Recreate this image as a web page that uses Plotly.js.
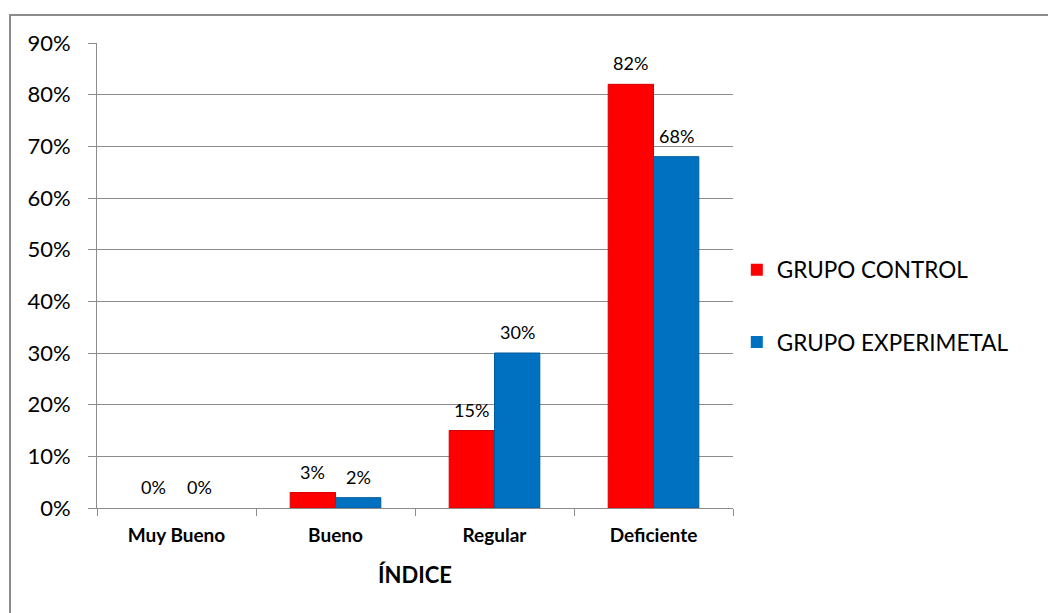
<!DOCTYPE html>
<html>
<head>
<meta charset="utf-8">
<script src="https://cdn.plot.ly/plotly-3.0.1.min.js"></script>
<style>
  html, body { margin: 0; padding: 0; background: #ffffff; }
  #wrap { position: relative; width: 1048px; height: 613px; overflow: hidden; }
  #frame { position: absolute; left: 9px; top: 14px; width: 1100px; height: 700px;
           border-left: 2px solid #8c8c8c; border-top: 2px solid #8c8c8c; pointer-events: none; }
  #chart { position: absolute; left: 0; top: 0; width: 1048px; height: 613px; }
</style>
</head>
<body>
<div id="wrap">
  <div id="chart"></div>
  <div id="frame"></div>
</div>
<script>
// Rating categories on the x axis
const categories = ['Muy Bueno', 'Bueno', 'Regular', 'Deficiente'];

// Percentage of students per rating, for each group
const controlValues = [0, 3, 15, 82];
const experimentalValues = [0, 2, 30, 68];

const seriesNames = ['GRUPO CONTROL', 'GRUPO EXPERIMETAL'];
const axisTitle = 'ÍNDICE';

const FONT = 'Lato, "Open Sans", "Noto Sans", sans-serif';
const GRID = '#8c8c8c';
const BAR_GAP = 0.43;

// thin darker edge on bars that have height, none on empty ones
const edge = vals => vals.map(v => (v > 0 ? 1 : 0));

const control = {
  type: 'bar',
  name: seriesNames[0],
  x: categories,
  y: controlValues,
  legendgroup: 'a',
  marker: { color: '#ff0000', line: { color: '#d40000', width: edge(controlValues) } },
  hoverinfo: 'x+y'
};

const experimental = {
  type: 'bar',
  name: seriesNames[1],
  x: categories,
  y: experimentalValues,
  legendgroup: 'b',
  marker: { color: '#0070c0', line: { color: '#005a9c', width: edge(experimentalValues) } },
  hoverinfo: 'x+y'
};

// Value labels above each bar, placed at the bar centres of the grouped layout
const half = (1 - BAR_GAP) / 4;
const annotations = [];
[controlValues, experimentalValues].forEach((vals, s) => {
  vals.forEach((v, i) => {
    annotations.push({
      x: i + (s === 0 ? -half : half),
      y: v,
      xref: 'x', yref: 'y',
      text: v + '%',
      showarrow: false,
      yanchor: 'middle',
      yshift: 21,
      font: { family: FONT, size: 18, color: '#000000' }
    });
  });
});

const layout = {
  width: 1048,
  height: 613,
  margin: { l: 97, r: 315, t: 43, b: 105 },
  paper_bgcolor: '#ffffff',
  plot_bgcolor: '#ffffff',
  barmode: 'group',
  bargap: BAR_GAP,
  bargroupgap: 0,
  font: { family: FONT, color: '#000000' },
  showlegend: true,
  legend: {
    x: 1.006, xanchor: 'left',
    y: 0.558, yanchor: 'top',
    traceorder: 'grouped',
    tracegroupgap: 40,
    font: { family: FONT, size: 22.5, color: '#000000' },
    bgcolor: 'rgba(0,0,0,0)'
  },
  xaxis: {
    type: 'category',
    showline: true,
    linecolor: GRID,
    linewidth: 1,
    ticks: 'outside',
    tickson: 'boundaries',
    ticklen: 7,
    tickcolor: GRID,
    showgrid: false,
    ticklabelstandoff: 10,
    tickfont: { family: FONT, size: 19, color: '#000000', weight: 'bold' },
    title: { text: '<b>' + axisTitle + '</b>', font: { family: FONT, size: 22, color: '#000000' }, standoff: 22 }
  },
  yaxis: {
    range: [0, 90],
    dtick: 10,
    ticksuffix: '%',
    showline: true,
    linecolor: GRID,
    linewidth: 1,
    ticks: 'outside',
    ticklen: 8,
    tickcolor: GRID,
    showgrid: true,
    gridcolor: GRID,
    gridwidth: 1,
    zeroline: false,
    ticklabelstandoff: 13,
    tickfont: { family: FONT, size: 22, color: '#000000' }
  },
  annotations: annotations
};

Plotly.newPlot('chart', [control, experimental], layout, { displayModeBar: false, staticPlot: true });
</script>
</body>
</html>
